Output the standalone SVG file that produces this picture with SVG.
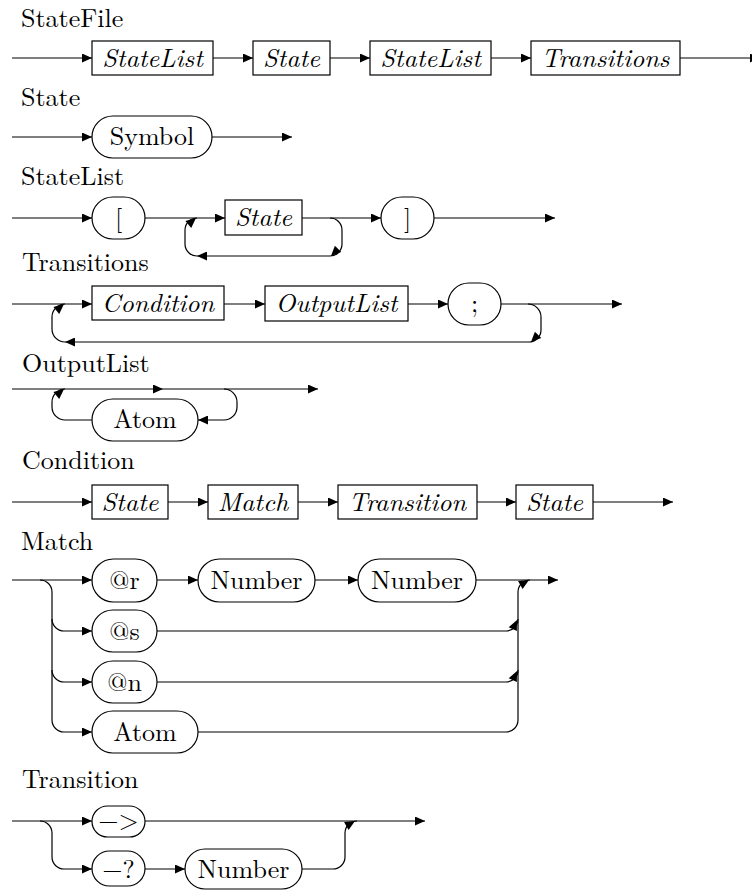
<svg xmlns="http://www.w3.org/2000/svg" xmlns:xlink="http://www.w3.org/1999/xlink" width="752" height="893" viewBox="0 0 752 893">
<style>
.m{text-anchor:middle}
.b{fill:#fff;stroke:#000;stroke-width:1.2}
.c{fill:none;stroke:#000;stroke-width:1.2}
.a{marker-end:url(#ar)}
</style>
<defs>
<marker id="ar" viewBox="0 0 10 9" refX="10" refY="4.5" markerWidth="10" markerHeight="9" markerUnits="userSpaceOnUse" orient="auto"><path d="M0,0 L10,4.5 L0,9 Z" fill="#000"/></marker>
<path id="ah" d="M0,0 L-10,-4.5 L-10,4.5 Z" fill="#000"/>
</defs>
<g id="titles" font-family="Latin Modern Roman, Liberation Serif, serif" font-size="26" fill="#000">
<text x="21" y="27">StateFile</text>
<text x="21" y="106">State</text>
<text x="21" y="185">StateList</text>
<text x="22" y="271">Transitions</text>
<text x="22" y="372">OutputList</text>
<text x="22" y="469">Condition</text>
<text x="21" y="550">Match</text>
<text x="22" y="788">Transition</text>
</g>
<g id="connectors">
<path class="c a" d="M12,58 H92"/><path class="c a" d="M213,58 H253"/><path class="c a" d="M330,58 H370"/><path class="c a" d="M491,58 H531"/><path class="c a" d="M680,58 H760"/>
<path class="c a" d="M12,137 H92"/><path class="c a" d="M212,137 H292"/>
<path class="c a" d="M12,218 H92"/><path class="c a" d="M145,218 H225"/><path class="c a" d="M302,218 H381"/><path class="c a" d="M434,218 H555"/>
<path class="c" d="M330,218 A12,12 0 0 1 342,230 V244 A12,12 0 0 1 330,256"/>
<use xlink:href="#ah" transform="translate(331,256) rotate(135)"/>
<path class="c a" d="M330,256 H197"/>
<path class="c" d="M197,256 A12,12 0 0 1 185,244 V230 A12,12 0 0 1 197,218"/>
<use xlink:href="#ah" transform="translate(196,218) rotate(-40)"/>
<path class="c a" d="M12,304 H92"/><path class="c a" d="M224,304 H265"/><path class="c a" d="M408,304 H448"/><path class="c a" d="M501,304 H622"/>
<path class="c" d="M528,304 A13,13 0 0 1 541,317 V330 A12,12 0 0 1 529,342"/>
<use xlink:href="#ah" transform="translate(531,342) rotate(135)"/>
<path class="c a" d="M529,342 H65"/>
<path class="c" d="M65,342 A13,13 0 0 1 52,329 V317 A13,13 0 0 1 65,304"/>
<use xlink:href="#ah" transform="translate(64,304) rotate(-40)"/>
<path class="c a" d="M12,389 H163"/><path class="c a" d="M163,389 H318"/>
<path class="c a" d="M224,389 A13,13 0 0 1 237,402 V407 A13,13 0 0 1 224,420 H198"/>
<path class="c" d="M92,420 H65 A13,13 0 0 1 52,407 V402 A13,13 0 0 1 65,389"/>
<use xlink:href="#ah" transform="translate(64,389) rotate(-40)"/>
<path class="c a" d="M12,502 H92"/><path class="c a" d="M168,502 H208"/><path class="c a" d="M298,502 H338"/><path class="c a" d="M477,502 H516"/><path class="c a" d="M593,502 H673"/>
<path class="c a" d="M12,580 H92"/><path class="c a" d="M157,580 H198"/><path class="c a" d="M315,580 H358"/><path class="c a" d="M476,580 H558"/>
<path class="c a" d="M40,580 A12,12 0 0 1 52,592 V720 A12,12 0 0 0 64,732 H92"/>
<path class="c a" d="M52,619 A12,12 0 0 0 64,631 H92"/>
<path class="c a" d="M52,670 A12,12 0 0 0 64,682 H92"/>
<path class="c" d="M157,631 H506 A12,12 0 0 0 518,619"/>
<use xlink:href="#ah" transform="translate(517,620) rotate(-65)"/>
<path class="c" d="M157,682 H506 A12,12 0 0 0 518,670"/>
<use xlink:href="#ah" transform="translate(517,671) rotate(-65)"/>
<path class="c" d="M198,732 H506 A12,12 0 0 0 518,720 V592 A12,12 0 0 1 530,580"/>
<use xlink:href="#ah" transform="translate(529,580) rotate(-30)"/>
<path class="c a" d="M12,821 H92"/><path class="c a" d="M145,821 H425"/>
<path class="c a" d="M40,821 A12,12 0 0 1 52,833 V857 A12,12 0 0 0 64,869 H92"/>
<path class="c a" d="M145,869 H185"/>
<path class="c" d="M302,869 H333 A12,12 0 0 0 345,857 V833 A12,12 0 0 1 357,821"/>
<use xlink:href="#ah" transform="translate(355,821) rotate(-30)"/>
</g>
<g id="nodes" font-family="Latin Modern Roman, Liberation Serif, serif" font-size="26" fill="#000">
<g id="n-sf-statelist"><rect class="b" x="92" y="41" width="121" height="34"/><text class="m" font-style="italic" x="152.5" y="67">StateList</text></g>
<g id="n-sf-state"><rect class="b" x="253" y="41" width="77" height="34"/><text class="m" font-style="italic" x="291.5" y="67">State</text></g>
<g id="n-sf-statelist2"><rect class="b" x="370" y="41" width="121" height="34"/><text class="m" font-style="italic" x="430.5" y="67">StateList</text></g>
<g id="n-sf-transitions"><rect class="b" x="531" y="41" width="149" height="34"/><text class="m" font-style="italic" x="605.5" y="67">Transitions</text></g>
<g id="n-st-symbol"><rect class="b" x="92" y="116" width="120" height="42" rx="21"/><text class="m" x="152" y="145">Symbol</text></g>
<g id="n-sl-open"><rect class="b" x="92" y="197" width="53" height="42" rx="21"/><text class="m" x="118.5" y="227">[</text></g>
<g id="n-sl-state"><rect class="b" x="225" y="200" width="77" height="35"/><text class="m" font-style="italic" x="263.5" y="226">State</text></g>
<g id="n-sl-close"><rect class="b" x="381" y="197" width="53" height="42" rx="21"/><text class="m" x="407.5" y="227">]</text></g>
<g id="n-tr-condition"><rect class="b" x="92" y="286" width="132" height="34"/><text class="m" font-style="italic" x="158" y="312">Condition</text></g>
<g id="n-tr-outputlist"><rect class="b" x="265" y="286" width="143" height="35"/><text class="m" font-style="italic" x="336.5" y="312">OutputList</text></g>
<g id="n-tr-semi"><rect class="b" x="448" y="283" width="53" height="42" rx="21"/><text class="m" x="474.5" y="312">;</text></g>
<g id="n-ol-atom"><rect class="b" x="92" y="399" width="106" height="42" rx="21"/><text class="m" x="145" y="428">Atom</text></g>
<g id="n-co-state"><rect class="b" x="92" y="485" width="76" height="34"/><text class="m" font-style="italic" x="130" y="511">State</text></g>
<g id="n-co-match"><rect class="b" x="208" y="485" width="90" height="34"/><text class="m" font-style="italic" x="253" y="511">Match</text></g>
<g id="n-co-transition"><rect class="b" x="338" y="485" width="139" height="34"/><text class="m" font-style="italic" x="407.5" y="511">Transition</text></g>
<g id="n-co-state2"><rect class="b" x="516" y="485" width="77" height="34"/><text class="m" font-style="italic" x="554.5" y="511">State</text></g>
<g id="n-ma-r"><rect class="b" x="92" y="559" width="65" height="43" rx="21.5"/><text class="m" x="124.5" y="589">@r</text></g>
<g id="n-ma-num1"><rect class="b" x="198" y="559" width="117" height="43" rx="21.5"/><text class="m" x="256.5" y="589">Number</text></g>
<g id="n-ma-num2"><rect class="b" x="358" y="559" width="118" height="43" rx="21.5"/><text class="m" x="417" y="589">Number</text></g>
<g id="n-ma-s"><rect class="b" x="92" y="610" width="65" height="42" rx="21"/><text class="m" x="124.5" y="640">@s</text></g>
<g id="n-ma-n"><rect class="b" x="92" y="661" width="65" height="42" rx="21"/><text class="m" x="124.5" y="691">@n</text></g>
<g id="n-ma-atom"><rect class="b" x="92" y="711" width="106" height="42" rx="21"/><text class="m" x="145" y="741">Atom</text></g>
<g id="n-tn-arrow"><rect class="b" x="92" y="806" width="53" height="31" rx="15.5"/><text class="m" x="118.5" y="829">−&gt;</text></g>
<g id="n-tn-q"><rect class="b" x="92" y="851" width="53" height="35" rx="17.5"/><text class="m" x="118.5" y="878">−?</text></g>
<g id="n-tn-num"><rect class="b" x="185" y="849" width="117" height="40" rx="20"/><text class="m" x="243.5" y="878">Number</text></g>
</g>
</svg>
